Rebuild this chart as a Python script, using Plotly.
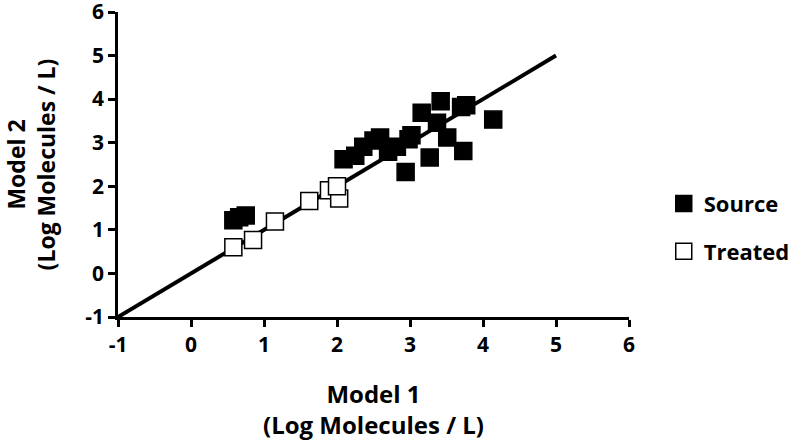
import plotly.graph_objects as go

source_x = [0.58, 0.66, 0.75, 2.09, 2.25, 2.36, 2.50, 2.59, 2.70, 2.82, 2.94, 2.98, 3.02,
            3.16, 3.27, 3.37, 3.42, 3.51, 3.70, 3.73, 3.77, 4.14]
source_y = [1.22, 1.29, 1.33, 2.62, 2.70, 2.91, 3.05, 3.12, 2.79, 2.91, 2.33, 3.08, 3.17,
            3.69, 2.66, 3.46, 3.95, 3.12, 3.82, 2.81, 3.86, 3.53]
treated_x = [0.58, 0.85, 1.15, 1.62, 1.89, 2.03, 2.00]
treated_y = [0.60, 0.77, 1.19, 1.66, 1.91, 1.72, 2.00]
line_x = [-1, 5]
line_y = [-1, 5]
tick_vals = [-1, 0, 1, 2, 3, 4, 5, 6]
tick_text = ["-1", "0", "1", "2", "3", "4", "5", "6"]

fig = go.Figure()
fig.add_trace(go.Scatter(x=line_x, y=line_y, mode="lines", line=dict(color="black", width=4),
                         showlegend=False, hoverinfo="skip", cliponaxis=False))
fig.add_trace(go.Scatter(x=source_x, y=source_y, mode="markers", name="Source",
                         legendgroup="a",
                         marker=dict(symbol="square", size=17, color="black",
                                     line=dict(color="black", width=1.5))))
fig.add_trace(go.Scatter(x=treated_x, y=treated_y, mode="markers", name="Treated",
                         legendgroup="b",
                         marker=dict(symbol="square", size=17, color="white",
                                     line=dict(color="black", width=1.5))))

axis_common = dict(range=[-1, 6], tickvals=tick_vals, ticktext=tick_text, showgrid=False,
                   zeroline=False, automargin=False, ticklabeloverflow="allow",
                   showline=True, linecolor="black", linewidth=2.5, ticks="outside",
                   ticklen=7, tickwidth=2.5, tickcolor="black",
                   tickfont=dict(size=21, color="black"))

fig.update_layout(
    width=790, height=441,
    margin=dict(l=118, r=161, t=12, b=124, autoexpand=False),
    paper_bgcolor="white", plot_bgcolor="white",
    font=dict(family="Open Sans", size=21, color="black", weight="bold"),
    xaxis=dict(**axis_common, title=dict(text="Model 1<br>(Log Molecules / L)",
                                         font=dict(size=24), standoff=32)),
    yaxis=dict(**axis_common, title=dict(text="Model 2<br>(Log Molecules / L)",
                                         font=dict(size=23), standoff=25)),
    legend=dict(x=1.068, y=0.44, xanchor="left", yanchor="top", traceorder="grouped",
                tracegroupgap=16, font=dict(size=22), bgcolor="rgba(0,0,0,0)"),
)
fig.write_html("out.html", config={"displayModeBar": False},
               post_script="document.body.style.margin='0';")
